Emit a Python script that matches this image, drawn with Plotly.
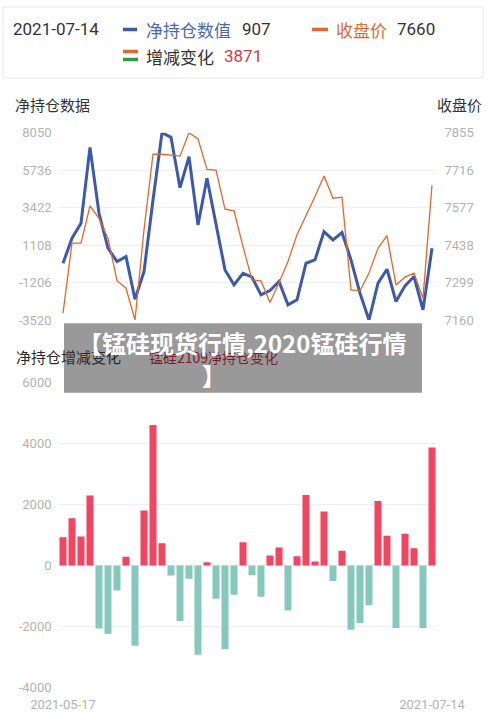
import plotly.graph_objects as go

dates = [
    "2021-05-17", "2021-05-18", "2021-05-19", "2021-05-20", "2021-05-21",
    "2021-05-24", "2021-05-25", "2021-05-26", "2021-05-27", "2021-05-28",
    "2021-05-31", "2021-06-01", "2021-06-02", "2021-06-03", "2021-06-04",
    "2021-06-07", "2021-06-08", "2021-06-09", "2021-06-10", "2021-06-11",
    "2021-06-15", "2021-06-16", "2021-06-17", "2021-06-18",
    "2021-06-21", "2021-06-22", "2021-06-23", "2021-06-24", "2021-06-25",
    "2021-06-28", "2021-06-29", "2021-06-30", "2021-07-01", "2021-07-02",
    "2021-07-05", "2021-07-06", "2021-07-07", "2021-07-08", "2021-07-09",
    "2021-07-12", "2021-07-13", "2021-07-14",
]

net_position = [
    -20, 1529, 2455, 7145, 3072, 912, 89, 398, -2235, -528,
    3895, 8050, 7762, 4656, 6569, 2352, 5232, 2455, -425, -1350,
    -631, -877, -1968, -1700, -1145, -2585, -2276, -13, 192, 1941,
    1426, 1879, 192, -1865, -3520, -1248, -384, -2379, -1412, -836,
    -2893, 907,
]

close_price = [
    7185, 7445, 7445, 7583, 7537, 7463, 7306, 7278, 7160, 7494,
    7775, 7775, 7772, 7768, 7855, 7832, 7719, 7716, 7571, 7565,
    7432, 7309, 7305, 7225, 7299, 7377, 7476, 7544, 7618, 7694,
    7612, 7616, 7272, 7268, 7334, 7426, 7473, 7290, 7319, 7334,
    7241, 7660,
]

change = [
    929, 1552, 951, 2295, -2066, -2240, -820, 284, -2634, 1803,
    4612, 732, -328, -1825, -437, -2929, 109, -1093, -2754, -962,
    765, -324, -1027, 330, 590, -1481, 306, 2317, 130, 1770,
    -508, 480, -2108, -1892, -1297, 2120, 973, -2054, 1038, 568,
    -2054, 3871,
]

left_ticks = [8050, 5736, 3422, 1108, -1206, -3520]
right_ticks = [7855, 7716, 7577, 7438, 7299, 7160]
bar_ticks = [6000, 4000, 2000, 0, -2000, -4000]

W, H = 487, 716
def px(x):
    return x / W
def py(y):
    return 1 - y / H

FONT = "Roboto, 'Noto Sans CJK SC', sans-serif"
CJK = "'Noto Sans CJK SC', Roboto, sans-serif"
GRID = "#eeeeee"
TICK = "#b3b3b3"
BLUE = "#3d59ab"
ORANGE = "#e5672a"
RED = "#f2455f"
TEAL = "#86c9bc"

bar_colors = [RED if v >= 0 else TEAL for v in change]

fig = go.Figure()
fig.add_trace(go.Scatter(x=dates, y=close_price, mode="lines", yaxis="y2", xaxis="x",
                         line=dict(color=ORANGE, width=1.3), cliponaxis=False, showlegend=False))
fig.add_trace(go.Scatter(x=dates, y=net_position, mode="lines", yaxis="y", xaxis="x",
                         line=dict(color=BLUE, width=3), cliponaxis=False, showlegend=False))
fig.add_trace(go.Bar(x=dates, y=change, xaxis="x2", yaxis="y3", marker=dict(color=bar_colors, line=dict(width=0)),
                     showlegend=False))

xdom = [px(58.5), px(436.5)]
fig.update_layout(
    width=W, height=H,
    margin=dict(l=0, r=0, t=0, b=0, pad=0, autoexpand=False),
    paper_bgcolor="white", plot_bgcolor="white",
    font=dict(family=FONT, size=13, color=TICK),
    bargap=0.22,
    xaxis=dict(domain=xdom, type="category", range=[-0.5, 41.5], anchor="y", automargin=False,
               showticklabels=False, showgrid=False, zeroline=False, showline=False, ticks=""),
    yaxis=dict(domain=[py(320), py(132.7)], range=[-3520, 8050], tickvals=left_ticks, automargin=False,
               ticktext=[str(v) for v in left_ticks], showgrid=True, gridcolor=GRID, gridwidth=1,
               zeroline=False, showline=False, ticks="", ticklabelstandoff=6,
               tickfont=dict(size=13, color=TICK)),
    yaxis2=dict(overlaying="y", side="right", anchor="x", range=[7160, 7855], tickvals=right_ticks,
                automargin=False,
                ticktext=[str(v) for v in right_ticks], showgrid=False, zeroline=False, showline=False,
                ticks="", ticklabelstandoff=7, tickfont=dict(size=13, color=TICK)),
    xaxis2=dict(domain=xdom, type="category", range=[-0.5, 41.5], anchor="y3", automargin=False,
                tickvals=[dates[0], dates[-1]], ticktext=[dates[0], dates[-1]],
                showgrid=False, zeroline=False, showline=False, ticks="", ticklabelstandoff=8,
                tickfont=dict(size=13, color=TICK)),
    yaxis3=dict(domain=[py(687.3), py(382.7)], range=[-4000, 6000], tickvals=bar_ticks, automargin=False,
                ticktext=[str(v) for v in bar_ticks], showgrid=True, gridcolor=GRID, gridwidth=1,
                zeroline=False, showline=False, ticks="", ticklabelstandoff=6, anchor="x2",
                tickfont=dict(size=13, color=TICK)),
)

shapes = []
shapes.append(dict(type="rect", xref="paper", yref="paper", x0=px(3), x1=px(483), y0=py(78), y1=py(7),
                   line=dict(color="#e6e6e6", width=1), fillcolor="rgba(0,0,0,0)", layer="above"))
shapes.append(dict(type="line", xref="paper", yref="paper", x0=px(123), x1=px(137), y0=py(29.5), y1=py(29.5),
                   line=dict(color=BLUE, width=3.5)))
shapes.append(dict(type="line", xref="paper", yref="paper", x0=px(312), x1=px(328), y0=py(29.5), y1=py(29.5),
                   line=dict(color=ORANGE, width=3.5)))
shapes.append(dict(type="line", xref="paper", yref="paper", x0=px(123), x1=px(138), y0=py(51.5), y1=py(51.5),
                   line=dict(color=ORANGE, width=3.5)))
shapes.append(dict(type="line", xref="paper", yref="paper", x0=px(123), x1=px(138), y0=py(59.5), y1=py(59.5),
                   line=dict(color="#2f9a4a", width=3.5)))
shapes.append(dict(type="rect", xref="paper", yref="paper", x0=px(64), x1=px(422), y0=py(392.7), y1=py(323.3),
                   line=dict(width=0), fillcolor="rgba(0,0,0,0.40)", layer="above"))
fig.update_layout(shapes=shapes)

def ann(text, x, y, size, color, anchor="left", family=FONT):
    return dict(text=text, x=px(x), y=py(y), xref="paper", yref="paper", xanchor=anchor, yanchor="middle",
                showarrow=False, font=dict(size=size, color=color, family=family))

annotations = [
    ann("2021-07-14", 11, 29, 17, "#333333"),
    ann("净持仓数值", 144, 29, 17, "#4f67b3", family=CJK),
    ann("907", 240, 29, 17, "#333333"),
    ann("收盘价", 334, 29, 17, "#e26a2c", family=CJK),
    ann("7660", 395, 29, 17, "#333333"),
    ann("增减变化", 144, 56, 17, "#333333", family=CJK),
    ann("3871", 222, 56, 17, "#d23a45"),
    ann("净持仓数据", 13, 105, 15, "#333333", family=CJK),
    ann("收盘价", 484, 105, 15, "#333333", anchor="right", family=CJK),
    ann("净持仓增减变化", 14, 356, 15, "#2a2a2a", family=CJK),
    ann("锰硅2109净持仓变化", 147, 357, 14, "#7a1e2e", family=CJK),
    ann("<b>【锰硅现货行情,2020锰硅行情</b>", 242, 342, 24, "white", anchor="center", family=CJK),
    ann("<b>】</b>", 214, 374, 24, "white", anchor="center", family=CJK),
]
fig.update_layout(annotations=annotations)

fig.write_html("out.html")
